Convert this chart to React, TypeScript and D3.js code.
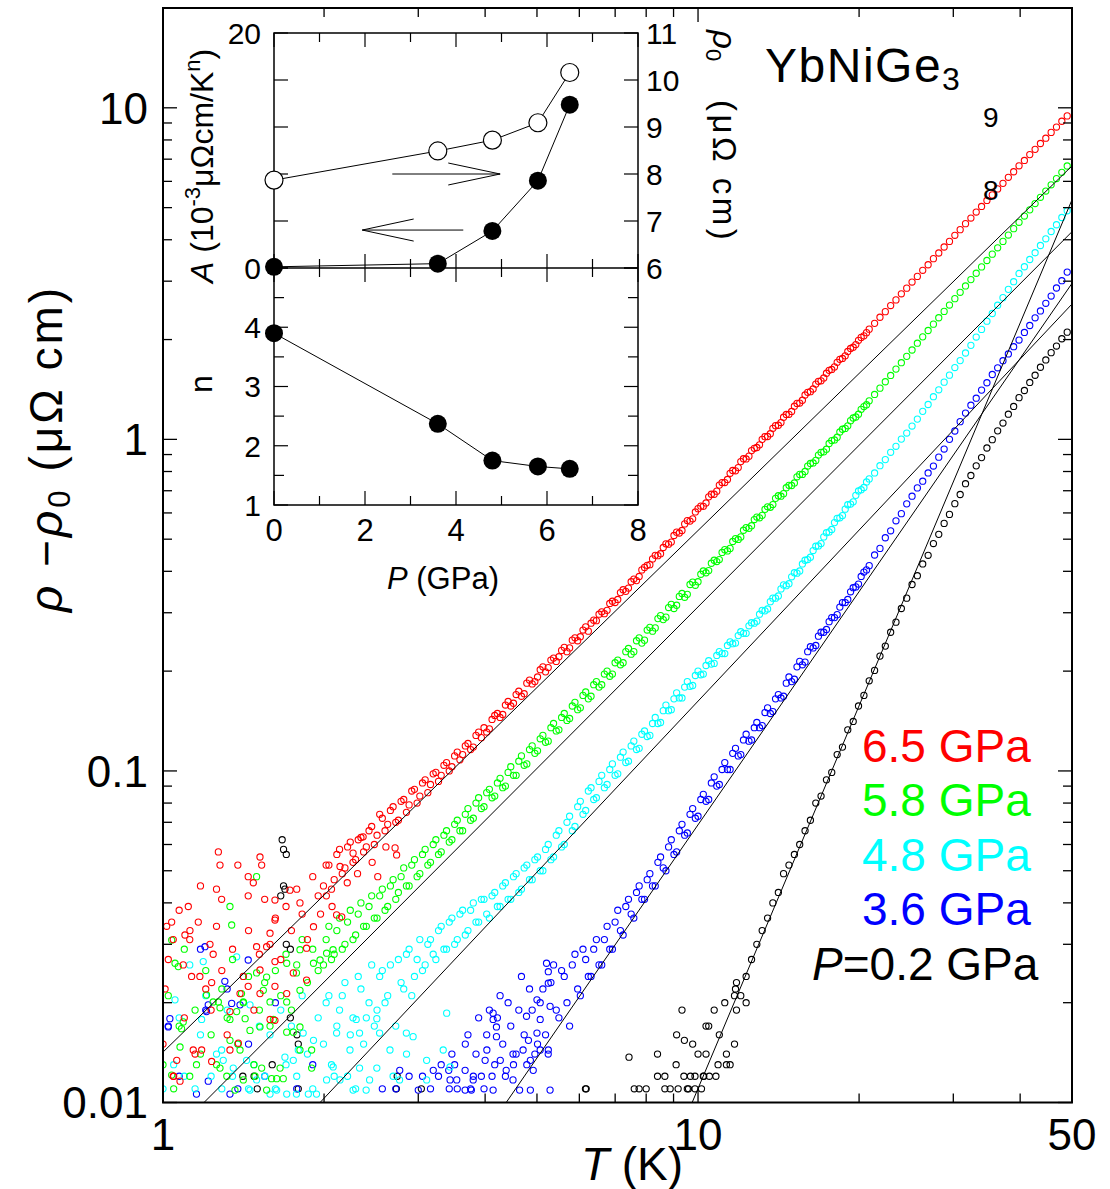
import React from "react";
import * as d3 from "d3";

// ---------------- data ----------------
// temperature grid (K)
const temps = [
  1.000,1.023,1.047,1.072,1.096,1.122,1.148,1.175,1.202,1.230,
  1.259,1.288,1.318,1.349,1.380,1.413,1.445,1.479,1.514,1.549,
  1.585,1.622,1.660,1.698,1.738,1.778,1.820,1.862,1.905,1.950,
  1.995,2.042,2.089,2.138,2.188,2.239,2.291,2.344,2.399,2.455,
  2.512,2.570,2.630,2.692,2.754,2.818,2.884,2.951,3.020,3.090,
  3.162,3.236,3.311,3.388,3.467,3.548,3.631,3.715,3.802,3.890,
  3.981,4.074,4.169,4.266,4.365,4.467,4.571,4.677,4.786,4.898,
  5.012,5.129,5.248,5.370,5.495,5.623,5.754,5.888,6.026,6.166,
  6.310,6.457,6.607,6.761,6.918,7.079,7.244,7.413,7.586,7.762,
  7.943,8.128,8.318,8.511,8.710,8.913,9.120,9.333,9.550,9.772,
  10.00,10.23,10.47,10.72,10.96,11.22,11.48,11.75,12.02,12.30,
  12.59,12.88,13.18,13.49,13.80,14.13,14.45,14.79,15.14,15.49,
  15.85,16.22,16.60,16.98,17.38,17.78,18.20,18.62,19.05,19.50,
  19.95,20.42,20.89,21.38,21.88,22.39,22.91,23.44,23.99,24.55,
  25.12,25.70,26.30,26.92,27.54,28.18,28.84,29.51,30.20,30.90,
  31.62,32.36,33.11,33.88,34.67,35.48,36.31,37.15,38.02,38.90,
  39.81,40.74,41.69,42.66,43.65,44.67,45.71,46.77,47.86,48.98,
];

// intermediate readings in the densely sampled range (K)
const tempsMid = [
  2.018,2.065,2.113,2.163,2.213,2.265,2.317,2.371,2.427,2.483,
  2.541,2.600,2.661,2.723,2.786,2.851,2.917,2.985,3.055,3.126,
  3.199,3.273,3.350,3.428,3.508,3.589,3.673,3.758,3.846,3.936,
  4.027,4.121,4.217,4.315,4.416,4.519,4.624,4.732,4.842,4.955,
  5.070,5.188,5.309,5.433,5.559,5.689,5.821,5.957,6.095,6.237,
  6.383,6.531,6.683,6.839,6.998,7.161,7.328,7.499,7.674,7.852,
  8.035,8.222,8.414,8.610,8.810,9.016,9.226,9.441,9.661,9.886,
  10.12,10.35,10.59,10.84,11.09,11.35,11.61,11.89,12.16,12.45,
  12.74,13.03,13.34,13.65,13.96,14.29,14.62,14.96,15.31,15.67,
  16.03,16.41,16.79,17.18,17.58,17.99,18.41,18.84,19.28,19.72,
  20.18,20.65,
];

// rho - rho0 (micro-ohm cm) at 6.5 GPa
const rho65 = [
  0.015,0.027,0.012,0.038,0.018,0.031,0.014,0.045,0.022,0.019,
  0.034,0.025,0.016,0.029,0.052,0.024,0.033,0.019,0.028,0.041,
  0.030,0.036,0.027,0.039,0.033,0.044,0.037,0.031,0.048,0.042,
  0.045,0.052,0.047,0.058,0.051,0.061,0.054,0.063,0.059,0.068,
  0.064,0.072,0.069,0.078,0.071,0.082,0.079,0.088,0.084,0.094,
  0.091,0.099,0.097,0.106,0.103,0.114,0.112,0.121,0.118,0.131,
  0.135,0.134,0.147,0.145,0.158,0.157,0.170,0.168,0.184,0.183,
  0.192,0.206,0.205,0.219,0.221,0.236,0.235,0.252,0.254,0.272,
  0.279,0.284,0.302,0.305,0.325,0.329,0.352,0.356,0.379,0.386,
  0.411,0.419,0.447,0.452,0.484,0.490,0.525,0.531,0.569,0.576,
  0.618,0.628,0.671,0.683,0.728,0.741,0.790,0.804,0.857,0.873,
  0.925,0.945,1.000,1.020,1.080,1.103,1.166,1.190,1.259,1.287,
  1.361,1.393,1.468,1.502,1.583,1.625,1.708,1.754,1.841,1.897,
  1.990,2.052,2.150,2.238,2.335,2.428,2.533,2.634,2.748,2.858,
  2.982,3.101,3.235,3.362,3.508,3.648,3.804,3.955,4.126,4.290,
  4.474,4.650,4.848,5.040,5.255,5.462,5.694,5.918,6.171,6.414,
  6.686,6.938,7.225,7.495,7.805,8.098,8.431,8.749,9.108,9.455,
];
const rho65Mid = [
  0.052,0.044,0.056,0.049,0.059,0.053,0.062,0.057,0.066,0.060,
  0.074,0.066,0.076,0.070,0.081,0.075,0.087,0.080,0.092,0.086,
  0.098,0.093,0.104,0.100,0.111,0.108,0.119,0.116,0.128,0.126,
  0.131,0.143,0.149,0.148,0.162,0.160,0.174,0.171,0.188,0.186,
  0.202,0.199,0.216,0.214,0.231,0.229,0.248,0.247,0.266,0.264,
  0.285,0.297,0.298,0.320,0.322,0.345,0.348,0.372,0.375,0.404,
  0.417,0.436,0.446,0.472,0.483,0.513,0.522,0.556,0.567,0.604,
  0.629,0.643,0.683,0.698,0.741,0.757,0.806,0.822,0.874,0.890,
  0.940,0.963,1.019,1.040,1.100,1.124,1.189,1.214,1.284,1.312,
  1.386,1.419,1.497,1.532,1.615,1.654,1.743,1.786,1.880,1.932,
  2.030,2.098,
];

// 5.8 GPa
const rho58 = [
  0.013,0.021,0.011,0.017,0.029,0.012,0.019,0.014,0.025,0.016,
  0.013,0.022,0.018,0.027,0.015,0.020,0.024,0.013,0.019,0.023,
  0.017,0.025,0.021,0.028,0.019,0.026,0.031,0.023,0.029,0.025,
  0.026,0.034,0.028,0.036,0.030,0.038,0.032,0.040,0.034,0.042,
  0.036,0.044,0.039,0.047,0.043,0.051,0.045,0.054,0.049,0.058,
  0.053,0.062,0.057,0.066,0.062,0.071,0.066,0.077,0.072,0.083,
  0.078,0.088,0.084,0.095,0.090,0.103,0.097,0.111,0.105,0.119,
  0.115,0.128,0.123,0.139,0.133,0.149,0.144,0.161,0.155,0.173,
  0.168,0.186,0.182,0.200,0.196,0.216,0.212,0.234,0.229,0.252,
  0.248,0.271,0.270,0.294,0.291,0.318,0.316,0.343,0.341,0.371,
  0.372,0.401,0.402,0.432,0.434,0.465,0.469,0.502,0.508,0.542,
  0.549,0.583,0.590,0.626,0.636,0.676,0.686,0.727,0.739,0.784,
  0.800,0.846,0.864,0.914,0.934,0.992,1.015,1.073,1.099,1.160,
  1.191,1.256,1.307,1.366,1.427,1.492,1.559,1.629,1.703,1.780,
  1.860,1.950,2.038,2.130,2.226,2.327,2.432,2.542,2.657,2.777,
  2.902,3.033,3.170,3.313,3.463,3.620,3.783,3.954,4.133,4.320,
  4.515,4.715,4.924,5.143,5.371,5.610,5.859,6.119,6.391,6.675,
];
const rho58Mid = [
  0.031,0.027,0.033,0.029,0.035,0.031,0.037,0.034,0.039,0.036,
  0.042,0.038,0.045,0.041,0.048,0.045,0.052,0.048,0.056,0.052,
  0.060,0.056,0.064,0.061,0.069,0.066,0.074,0.071,0.080,0.077,
  0.086,0.083,0.092,0.089,0.099,0.097,0.107,0.104,0.116,0.113,
  0.125,0.122,0.135,0.132,0.145,0.142,0.157,0.153,0.169,0.165,
  0.182,0.179,0.196,0.193,0.212,0.209,0.229,0.225,0.247,0.243,
  0.266,0.264,0.288,0.286,0.311,0.309,0.336,0.334,0.365,0.363,
  0.392,0.396,0.423,0.428,0.456,0.461,0.492,0.499,0.532,0.539,
  0.573,0.580,0.615,0.624,0.664,0.674,0.715,0.726,0.771,0.784,
  0.831,0.849,0.897,0.917,0.972,0.996,1.053,1.079,1.139,1.168,
  1.232,1.272,
];

// 4.8 GPa
const rho48 = [
  0.011,null,0.013,0.018,0.012,0.026,0.011,0.016,0.021,0.012,
  0.014,0.011,0.019,0.012,0.015,0.024,0.011,0.013,0.017,0.012,
  0.016,0.011,0.019,0.013,0.017,0.012,0.021,0.014,0.011,0.018,
  0.015,0.021,0.012,0.019,0.023,0.016,0.011,0.022,0.018,0.026,
  0.019,0.025,0.021,0.012,0.027,0.022,0.029,0.024,0.031,0.026,
  0.031,0.027,0.034,0.029,0.036,0.031,0.038,0.033,0.040,0.035,
  0.041,0.036,0.043,0.039,0.046,0.041,0.049,0.044,0.052,0.047,
  0.055,0.050,0.060,0.055,0.066,0.060,0.073,0.068,0.081,0.076,
  0.089,0.083,0.097,0.091,0.105,0.098,0.114,0.107,0.123,0.117,
  0.132,0.128,0.145,0.140,0.158,0.153,0.172,0.166,0.186,0.181,
  0.200,0.196,0.215,0.211,0.229,0.226,0.245,0.243,0.263,0.260,
  0.280,0.283,0.305,0.308,0.332,0.337,0.364,0.367,0.396,0.401,
  0.432,0.441,0.476,0.485,0.523,0.535,0.578,0.589,0.635,0.648,
  0.699,0.716,0.760,0.792,0.833,0.869,0.914,0.953,1.002,1.045,
  1.097,1.151,1.215,1.274,1.345,1.411,1.488,1.562,1.647,1.728,
  1.822,1.921,2.035,2.146,2.272,2.397,2.538,2.676,2.834,2.989,
  3.165,3.316,3.488,3.655,3.844,4.026,4.236,4.440,4.669,4.893,
];
const rho48Mid = [
  0.020,0.013,0.017,0.021,0.012,0.018,0.024,0.015,0.020,0.017,
  0.024,0.020,0.026,0.017,0.023,0.028,0.021,0.027,0.025,0.030,
  0.028,0.033,0.029,0.035,0.030,0.037,0.032,0.038,0.035,0.041,
  0.037,0.042,0.039,0.045,0.041,0.048,0.043,0.051,0.047,0.054,
  0.050,0.058,0.054,0.064,0.059,0.070,0.066,0.078,0.074,0.087,
  0.082,0.093,0.089,0.101,0.097,0.110,0.106,0.119,0.116,0.129,
  0.127,0.139,0.139,0.152,0.152,0.165,0.166,0.179,0.180,0.194,
  0.195,0.208,0.210,0.223,0.226,0.239,0.242,0.256,0.260,0.274,
  0.279,0.297,0.304,0.324,0.332,0.354,0.362,0.385,0.395,0.421,
  0.434,0.462,0.477,0.508,0.526,0.561,0.580,0.616,0.638,0.678,
  0.705,0.744,
];

// 3.6 GPa
const rho36 = [
  null,0.017,null,0.012,null,null,null,0.029,0.019,null,
  null,null,0.022,null,0.011,null,0.015,null,null,0.012,
  null,0.020,null,null,null,0.011,null,null,0.013,null,
  null,null,null,null,null,null,null,null,null,null,
  null,0.011,null,null,null,null,0.012,null,null,null,
  0.011,null,0.013,null,0.014,0.011,null,0.016,0.012,0.018,
  0.011,0.019,0.013,0.021,0.012,0.017,0.014,0.024,0.013,0.019,
  0.015,0.022,0.014,0.026,0.018,0.024,0.017,0.028,0.021,0.027,
  0.024,0.031,0.026,0.034,0.029,0.038,0.032,0.041,0.036,0.045,
  0.041,0.049,0.045,0.055,0.050,0.062,0.057,0.069,0.065,0.077,
  0.073,0.085,0.082,0.096,0.091,0.106,0.101,0.117,0.112,0.129,
  0.124,0.140,0.137,0.155,0.151,0.170,0.168,0.192,0.189,0.214,
  0.213,0.237,0.239,0.262,0.267,0.290,0.296,0.322,0.329,0.357,
  0.366,0.398,0.416,0.448,0.469,0.505,0.530,0.568,0.597,0.639,
  0.674,0.714,0.748,0.792,0.831,0.884,0.935,1.000,1.060,1.131,
  1.200,1.268,1.331,1.408,1.482,1.569,1.644,1.727,1.810,1.903,
  1.993,2.101,2.205,2.326,2.440,2.573,2.706,2.861,3.010,3.195,
];
const rho36Mid = [
  null,null,null,null,null,null,null,null,null,null,
  null,null,null,0.011,null,null,null,null,0.012,null,
  null,0.012,null,0.011,0.013,null,0.015,0.011,0.014,0.012,
  0.016,0.012,0.018,0.015,0.020,0.013,0.019,0.016,0.022,0.014,
  0.020,0.016,0.023,0.019,0.025,0.020,0.026,0.022,0.029,0.024,
  0.029,0.026,0.031,0.029,0.035,0.033,0.039,0.037,0.043,0.041,
  0.047,0.045,0.053,0.051,0.059,0.056,0.066,0.064,0.074,0.072,
  0.082,0.081,0.092,0.090,0.101,0.101,0.113,0.111,0.124,0.123,
  0.135,0.135,0.150,0.149,0.165,0.166,0.184,0.186,0.206,0.209,
  0.229,0.235,0.255,0.262,0.282,0.290,0.312,0.322,0.347,0.359,
  0.386,0.404,
];

// 0.2 GPa
const rho02 = [
  null,null,null,null,null,null,null,null,null,null,
  null,null,null,null,null,null,null,null,null,null,
  null,null,null,null,null,null,null,null,null,null,
  null,null,null,null,null,null,null,null,null,null,
  null,null,null,null,null,null,null,null,null,null,
  null,null,null,null,null,null,null,null,null,null,
  null,null,null,null,null,null,null,null,null,null,
  null,null,null,null,null,null,null,null,null,null,
  null,null,null,null,null,null,null,null,null,null,
  null,null,null,null,null,null,0.016,0.019,0.011,0.015,
  0.014,0.012,0.017,0.019,0.016,0.020,0.013,0.022,0.021,0.024,
  0.027,0.030,0.033,0.036,0.040,0.043,0.049,0.052,0.056,0.060,
  0.066,0.071,0.080,0.084,0.094,0.099,0.112,0.118,0.133,0.141,
  0.157,0.169,0.187,0.201,0.222,0.238,0.262,0.281,0.309,0.332,
  0.365,0.388,0.421,0.447,0.485,0.517,0.558,0.594,0.640,0.682,
  0.735,0.778,0.832,0.881,0.942,0.998,1.061,1.120,1.191,1.257,
  1.336,1.404,1.485,1.561,1.650,1.736,1.826,1.912,2.011,2.106,
];

// additional scattered low-temperature readings [T, rho]
const extra65 = [
  [1.269,0.057],[1.278,0.052],[1.518,0.055],[1.529,0.052],[1.443,0.048],[1.475,0.046],
  [1.259,0.044],[1.287,0.041],[1.443,0.042],[1.115,0.039],[1.016,0.034],[1.038,0.035],
  [1.045,0.031],[1.099,0.032],[1.123,0.033],[1.164,0.035],[1.224,0.030],[1.241,0.028],
  [1.009,0.022],[1.091,0.026],[1.131,0.024],[1.172,0.024],[1.233,0.023],[1.139,0.0144],
  [1.181,0.0144],[1.061,0.0134],[1.045,0.0120],[1.076,0.0116],[1.233,0.0133],[1.334,0.0144],
  [1.383,0.0151],[1.334,0.0188],[1.393,0.0213],[1.443,0.0224],[1.518,0.0213],[1.619,0.0224],
  [1.585,0.0178],[1.619,0.0177],[1.518,0.0251],[1.619,0.0266],[1.496,0.0295],[1.562,0.0295],
  [1.585,0.0324],[1.619,0.0355],[1.619,0.0408],[1.727,0.0437],[1.803,0.040],[1.855,0.0292],
  [1.752,0.0246],[1.855,0.0234],[1.703,0.0213],[1.911,0.0339],[2.111,0.0368],[2.158,0.0363],
  [2.142,0.0515],[2.266,0.0565],[2.366,0.0633],[2.733,0.0558],[2.715,0.0586],
  [1.97,0.037],[2.02,0.042],[2.07,0.039],[2.21,0.046],[2.31,0.049],[2.46,0.053],[2.61,0.059],[2.52,0.048],
];
const extra58 = [
  [1.496,0.048],[1.334,0.039],[1.344,0.0343],[1.053,0.0263],[1.068,0.0257],[1.038,0.0309],
  [1.206,0.0211],[1.241,0.0201],[1.091,0.0175],[1.083,0.0167],[1.269,0.0201],[1.278,0.0193],
  [1.038,0.0121],[1.155,0.0130],[1.076,0.0147],[1.373,0.0188],[1.413,0.0201],[1.402,0.0213],
  [1.424,0.0179],[1.334,0.0178],[1.454,0.0165],[1.334,0.0154],[1.393,0.0144],[1.278,0.0127],
  [1.316,0.0120],[1.363,0.0109],[1.413,0.0117],[1.486,0.0120],[1.529,0.0127],[1.562,0.0109],
  [1.631,0.0118],[1.678,0.0118],[1.703,0.0163],[1.752,0.0163],[1.608,0.0178],[1.518,0.0169],
  [1.585,0.0201],[1.540,0.0218],[1.703,0.0201],[1.803,0.0218],[1.803,0.0169],[1.896,0.0144],
  [1.803,0.0144],[1.896,0.0127],[1.655,0.0127],[1.596,0.0118],[1.562,0.0239],[1.496,0.0246],
  [1.703,0.0263],[1.776,0.0246],[1.911,0.0263],[1.966,0.0269],[2.022,0.0282],[2.079,0.0289],
  [1.803,0.0289],
];
const extra48 = [
  [1.053,0.0204],[1.181,0.0178],[1.189,0.0266],[1.373,0.0275],[1.454,0.0197],[1.296,0.0134],
  [1.287,0.0144],[1.353,0.0127],[1.433,0.0134],[1.454,0.0109],[1.496,0.0117],[1.585,0.0106],
  [1.631,0.0109],[1.703,0.0106],[1.776,0.0106],[1.869,0.0106],[1.936,0.0106],[2.022,0.0117],
  [2.142,0.0117],[2.266,0.0109],[2.397,0.0109],[2.433,0.0117],[2.768,0.0117],[3.11,0.0117],
  [3.44,0.0128],[2.08,0.0128],[2.236,0.0144],[2.111,0.0162],[2.297,0.0178],[2.33,0.0162],
  [2.51,0.0179],[2.656,0.0144],[2.852,0.0140],[2.51,0.0127],[2.33,0.0127],[1.752,0.0134],
  [1.69,0.0137],[1.79,0.0144],[1.911,0.0154],[1.828,0.0162],[3.39,0.0186],[3.34,0.0144],
  [2.934,0.0158],[3.11,0.0134],[2.85,0.0162],[2.54,0.0162],
];
const extra36 = [
  [1.030,0.0179],[1.023,0.0169],[1.198,0.0295],[1.206,0.0188],[1.215,0.0197],[1.305,0.0232],
  [1.344,0.0199],[1.155,0.0106],[1.215,0.0116],[1.334,0.0106],[1.393,0.0197],[1.443,0.0269],
  [3.2,0.0125],[3.42,0.0125],[3.67,0.0125],[3.44,0.0117],[3.54,0.0117],[3.8,0.0117],
  [3.67,0.0109],[3.77,0.0109],[3.0,0.0109],[2.77,0.0125],[4.0,0.0134],[4.03,0.0144],
  [4.14,0.0186],[4.14,0.0178],[4.2,0.0169],[4.2,0.0158],[4.27,0.0134],[4.38,0.0125],
  [4.51,0.0117],[4.64,0.0109],[4.71,0.0144],[4.78,0.0182],[5.0,0.0204],[5.07,0.0178],
  [5.21,0.0263],[5.25,0.0248],[5.25,0.0229],[5.29,0.0195],[5.25,0.0144],[5.07,0.0144],
  [4.92,0.0125],[4.86,0.0134],[5.29,0.0109],[4.51,0.0140],[5.0,0.0162],[4.82,0.0154],
  [4.86,0.0109],[4.14,0.0109],
];
const extra02 = [
  [1.67,0.062],[1.68,0.058],[1.70,0.056],[1.68,0.045],[1.69,0.044],[1.66,0.042],
  [1.73,0.029],[1.70,0.030],[1.73,0.018],[1.78,0.016],[1.79,0.015],[1.60,0.013],
  [1.48,0.012],[1.50,0.011],[1.41,0.012],[1.79,0.011],[2.74,0.012],[2.73,0.011],[3.04,0.011],
  [6.18,0.011],[6.16,0.011],[7.43,0.0137],[7.60,0.011],[7.76,0.011],[8.00,0.011],
  [8.40,0.014],[8.40,0.012],[8.67,0.012],[8.67,0.011],[8.87,0.011],[9.10,0.013],
  [9.18,0.011],[9.41,0.012],[9.43,0.0154],[9.60,0.011],[9.68,0.012],[9.87,0.011],
  [9.87,0.012],[10.15,0.011],[10.25,0.012],[10.35,0.014],[10.35,0.017],[10.5,0.012],
  [10.8,0.012],[10.9,0.013],[11.3,0.013],[11.3,0.014],[11.7,0.015],[11.7,0.021],
  [11.8,0.019],[12.3,0.020],[11.8,0.023],
];

// power-law fits, end points [T, rho]
const fit65 = [[1, 0.01419], [50, 6.68]];
const fit58 = [[1.193, 0.01], [50, 4.23]];
const fit48 = [[1.966, 0.01], [50, 2.56]];
const fit36 = [[4.38, 0.01], [50, 2.955]];
const fit02 = [[9.75, 0.01], [50, 5.28]];

const legendLabels = ["6.5 GPa", "5.8 GPa", "4.8 GPa", "3.6 GPa"];

// inset data
const insetP = [0, 3.6, 4.8, 5.8, 6.5];
const insetA = [0.1, 0.37, 3.15, 7.43, 13.9];
const insetRho0 = [7.87, 8.49, 8.72, 9.09, 10.16];
const insetN = [3.9, 2.37, 1.75, 1.65, 1.61];

// axis ticks
const xMajor = [1, 10];
const xMinor = [2, 3, 4, 5, 6, 7, 8, 9, 20, 30, 40];
const xLabels = [1, 10, 50];
const yMajor = [0.01, 0.1, 1, 10];
const yLabels = ["0.01", "0.1", "1", "10"];

const FONT = "'Liberation Sans', Arial, Helvetica, sans-serif";

export default function App() {
  const x = d3.scaleLog().domain([1, 50]).range([163, 1072]);
  const y = d3.scaleLog().domain([0.01, 20]).range([1102.5, 8]);
  const [X0, X1] = x.range();
  const [Y0, Y1] = y.range();
  const line = d3.line<number[]>().x((d) => x(d[0])).y((d) => y(d[1]));

  const yMinor: number[] = [];
  yMajor.forEach((d) => {
    for (let m = 2; m <= 9; m++) {
      const v = +(d * m).toPrecision(3);
      if (v < 20) yMinor.push(v);
    }
  });

  const series = [
    { rho: rho02, mid: null, extra: extra02, fit: fit02, color: "#000000" },
    { rho: rho36, mid: rho36Mid, extra: extra36, fit: fit36, color: "#0000ff" },
    { rho: rho48, mid: rho48Mid, extra: extra48, fit: fit48, color: "#00ffff" },
    { rho: rho58, mid: rho58Mid, extra: extra58, fit: fit58, color: "#00ff00" },
    { rho: rho65, mid: rho65Mid, extra: extra65, fit: fit65, color: "#ff0000" },
  ];
  const legendColors = ["#ff0000", "#00ff00", "#00ffff", "#0000ff"];

  const MJ = 14, MN = 9;

  // inset scales
  const px = d3.scaleLinear().domain([0, 8]).range([274, 638]);
  const yA = d3.scaleLinear().domain([0, 20]).range([268, 33]);
  const yR = d3.scaleLinear().domain([6, 11]).range([268, 33]);
  const yN = d3.scaleLinear().domain([1, 5]).range([505, 268]);
  const insetPts = insetP.map((p, i) => ({ p, a: insetA[i], r: insetRho0[i], n: insetN[i] }));
  const lineA = d3.line<any>().x((d) => px(d.p)).y((d) => yA(d.a));
  const lineR = d3.line<any>().x((d) => px(d.p)).y((d) => yR(d.r));
  const lineN = d3.line<any>().x((d) => px(d.p)).y((d) => yN(d.n));
  const pTicks = d3.range(0, 9);
  const aTicks = [0, 4, 8, 12, 16, 20];
  const nTicks = d3.range(1, 5.01, 0.5);

  return (
    <svg width={1110} height={1189} style={{ position: "absolute", left: 0, top: 0, background: "#fff" }} fontFamily={FONT}>
      <defs>
        <clipPath id="plotclip">
          <rect x={X0} y={Y1} width={X1 - X0} height={Y0 - Y1} />
        </clipPath>
      </defs>
      <rect x={0} y={0} width={1110} height={1189} fill="#fff" />

      {/* data points */}
      <g clipPath="url(#plotclip)">
        {series.map((s, si) => {
          const pts: number[][] = [];
          s.rho.forEach((v, i) => { if (v != null && i < temps.length) pts.push([temps[i], v as number]); });
          if (s.mid) s.mid.forEach((v, i) => { if (v != null && i < tempsMid.length) pts.push([tempsMid[i], v as number]); });
          s.extra.forEach((e) => pts.push(e));
          return (
            <g key={si} fill="none" stroke={s.color} strokeWidth={1.1}>
              {pts.map((d, i) => (
                <circle key={i} cx={x(d[0])} cy={y(d[1])} r={3.1} />
              ))}
            </g>
          );
        })}
        {series.map((s, si) => (
          <path key={"f" + si} d={line(s.fit) || ""} fill="none" stroke="#000" strokeWidth={1} />
        ))}
      </g>

      {/* main frame */}
      <rect x={X0} y={Y1} width={X1 - X0} height={Y0 - Y1} fill="none" stroke="#000" strokeWidth={2} />
      {xMajor.concat(xMinor).map((t, i) => {
        const len = xMajor.includes(t) ? MJ : MN;
        return (
          <g key={"xt" + i} stroke="#000" strokeWidth={1.3}>
            <line x1={x(t)} x2={x(t)} y1={Y0} y2={Y0 - len} />
            <line x1={x(t)} x2={x(t)} y1={Y1} y2={Y1 + len} />
          </g>
        );
      })}
      {yMajor.concat(yMinor).map((t, i) => {
        const len = yMajor.includes(t) ? MJ : MN;
        return (
          <g key={"yt" + i} stroke="#000" strokeWidth={1.3}>
            <line x1={X0} x2={X0 + len} y1={y(t)} y2={y(t)} />
            <line x1={X1} x2={X1 - len} y1={y(t)} y2={y(t)} />
          </g>
        );
      })}
      {xLabels.map((t) => (
        <text key={"xl" + t} x={x(t)} y={1150} fontSize={44} textAnchor="middle">{t}</text>
      ))}
      {yMajor.map((t, i) => (
        <text key={"yl" + t} x={148} y={y(t)} dy="0.36em" fontSize={44} textAnchor="end">{yLabels[i]}</text>
      ))}
      {/* axis titles */}
      <text x={632} y={1180} fontSize={46} textAnchor="middle">
        <tspan fontStyle="italic">T</tspan> (K)
      </text>
      <text transform="translate(62,612) rotate(-90)" fontSize={46} letterSpacing={3}>
        <tspan fontStyle="italic">ρ</tspan>
        <tspan> −</tspan>
        <tspan fontStyle="italic">ρ</tspan>
        <tspan fontSize={31} dy={8}>0</tspan>
        <tspan dy={-8}> (μΩ cm)</tspan>
      </text>

      {/* compound label and stray digits */}
      <text x={765} y={82} fontSize={48} letterSpacing={1.5}>
        YbNiGe<tspan fontSize={32} dy={8}>3</tspan>
      </text>
      <text x={983} y={127} fontSize={28}>9</text>
      <text x={983} y={200} fontSize={28}>8</text>

      {/* legend */}
      {legendLabels.map((l, i) => (
        <text key={l} x={862} y={762 + i * 54.3} fontSize={46} fill={legendColors[i]}>{l}</text>
      ))}
      <text x={812} y={980} fontSize={46} fill="#000">
        <tspan fontStyle="italic">P</tspan>=0.2 GPa
      </text>

      {/* ---------------- inset ---------------- */}
      <g stroke="#000" strokeWidth={1.5} fill="none">
        <rect x={px(0)} y={yA(20)} width={px(8) - px(0)} height={yN(1) - yA(20)} />
        <line x1={px(0)} x2={px(8)} y1={yA(0)} y2={yA(0)} />
      </g>
      <g stroke="#000" strokeWidth={1.2}>
        {pTicks.map((p) => {
          const len = p % 2 === 0 ? MJ : MN;
          return (
            <g key={"pt" + p}>
              <line x1={px(p)} x2={px(p)} y1={yA(20)} y2={yA(20) + len} />
              <line x1={px(p)} x2={px(p)} y1={yA(0)} y2={yA(0) - len} />
              <line x1={px(p)} x2={px(p)} y1={yN(5)} y2={yN(5) + len} />
              <line x1={px(p)} x2={px(p)} y1={yN(1)} y2={yN(1) - len} />
            </g>
          );
        })}
        {aTicks.map((a) => (
          <g key={"at" + a}>
            <line x1={px(0)} x2={px(0) + MJ} y1={yA(a)} y2={yA(a)} />
            <line x1={px(8)} x2={px(8) - MJ} y1={yA(a)} y2={yA(a)} />
          </g>
        ))}
        {nTicks.map((n) => {
          const len = Number.isInteger(n) ? MJ : 10;
          return (
            <g key={"nt" + n}>
              <line x1={px(0)} x2={px(0) + len} y1={yN(n)} y2={yN(n)} />
              <line x1={px(8)} x2={px(8) - len} y1={yN(n)} y2={yN(n)} />
            </g>
          );
        })}
      </g>
      <g fontSize={30}>
        <text x={261} y={yA(20)} dy="0.36em" textAnchor="end">20</text>
        <text x={261} y={yA(0)} dy="0.36em" textAnchor="end">0</text>
        {[6, 7, 8, 9, 10, 11].map((r) => (
          <text key={"rl" + r} x={646} y={yR(r)} dy="0.36em">{r}</text>
        ))}
        {[1, 2, 3, 4].map((n) => (
          <text key={"nl" + n} x={261} y={yN(n)} dy="0.36em" textAnchor="end">{n}</text>
        ))}
      </g>
      <g fontSize={31}>
        {[0, 2, 4, 6, 8].map((p) => (
          <text key={"pl" + p} x={px(p)} y={541} textAnchor="middle">{p}</text>
        ))}
        <text x={443} y={589} textAnchor="middle">
          <tspan fontStyle="italic">P</tspan> (GPa)
        </text>
        <text transform="translate(212,384) rotate(-90)" textAnchor="middle" fontSize={32}>n</text>
      </g>
      <text transform="translate(213,283) rotate(-90)" fontSize={32}>
        <tspan fontStyle="italic">A</tspan>
        <tspan> (10</tspan>
        <tspan fontSize={22} dy={-13}>-3</tspan>
        <tspan dy={13}>μΩcm/K</tspan>
        <tspan fontSize={22} dy={-13}>n</tspan>
        <tspan dy={13}>)</tspan>
      </text>
      <text transform="translate(713,30) rotate(90)" fontSize={33}>
        <tspan fontStyle="italic">ρ</tspan>
        <tspan fontSize={22} dy={7}>0</tspan>
      </text>
      <text transform="translate(713,100) rotate(90)" fontSize={33} letterSpacing={3.5}>(μΩ cm)</text>

      {/* inset curves */}
      <g fill="none" stroke="#000" strokeWidth={1}>
        <path d={lineA(insetPts) || ""} />
        <path d={lineR(insetPts) || ""} />
        <path d={lineN(insetPts) || ""} />
        <line x1={px(2.6)} x2={px(4.97)} y1={yR(8)} y2={yR(8)} />
        <polyline points={`${px(3.83)},${yR(8.234)} ${px(4.97)},${yR(8)} ${px(3.83)},${yR(7.766)}`} />
        <line x1={px(4.16)} x2={px(1.94)} y1={yA(3.23)} y2={yA(3.23)} />
        <polyline points={`${px(3.07)},${yA(4.17)} ${px(1.94)},${yA(3.23)} ${px(3.07)},${yA(2.29)}`} />
      </g>
      {insetPts.map((d, i) => (
        <g key={"ip" + i}>
          <circle cx={px(d.p)} cy={yR(d.r)} r={9} fill="#fff" stroke="#000" strokeWidth={1.2} />
          <circle cx={px(d.p)} cy={yA(d.a)} r={9} fill="#000" />
          <circle cx={px(d.p)} cy={yN(d.n)} r={9} fill="#000" />
        </g>
      ))}
    </svg>
  );
}
